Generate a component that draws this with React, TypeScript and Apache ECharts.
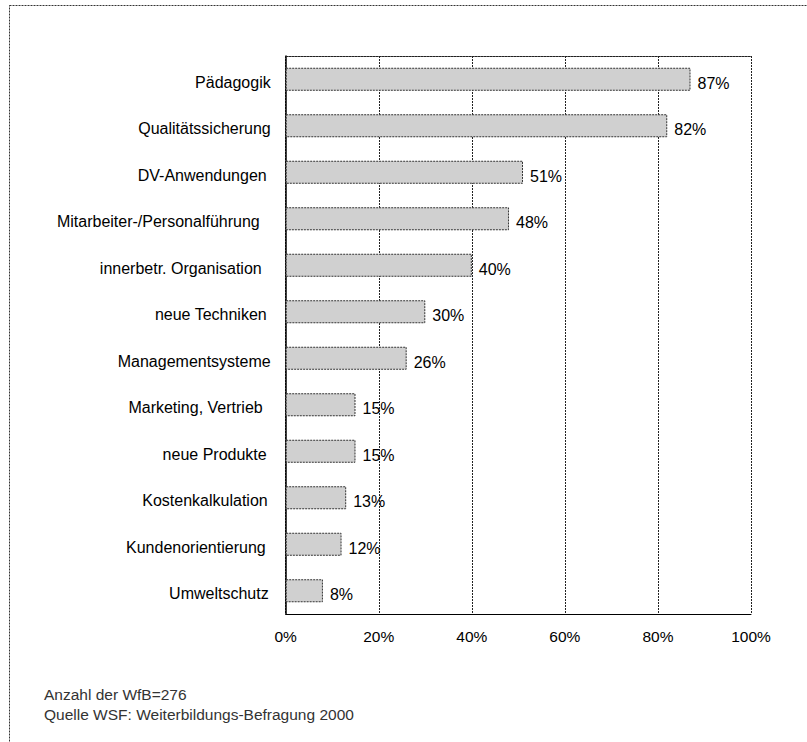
import React, { useEffect, useRef } from "react";
import * as echarts from "echarts";

const categories = [
  "Pädagogik",
  "Qualitätssicherung",
  "DV-Anwendungen",
  "Mitarbeiter-/Personalführung",
  "innerbetr. Organisation",
  "neue Techniken",
  "Managementsysteme",
  "Marketing, Vertrieb",
  "neue Produkte",
  "Kostenkalkulation",
  "Kundenorientierung",
  "Umweltschutz",
];
const values = [87, 82, 51, 48, 40, 30, 26, 15, 15, 13, 12, 8];
const labelPadRight = [0, 0, 4, 11, 9, 4, 0, 8, 4, 3, 5, 2];
const footerLines = ["Anzahl der WfB=276", "Quelle WSF: Weiterbildungs-Befragung 2000"];

const FONT = "'Liberation Sans', Arial, sans-serif";

export default function App() {
  const ref = useRef<HTMLDivElement>(null);
  useEffect(() => {
    if (!ref.current) return;
    const chart = echarts.init(ref.current, undefined, { renderer: "svg" });
    const gridLine = { color: "#222", width: 1, type: [2, 1] as any };
    const rich: Record<string, any> = {};
    labelPadRight.forEach((p, i) => {
      rich["c" + i] = {
        color: "#000",
        fontSize: 16,
        fontFamily: FONT,
        padding: [6, p, 0, 0],
      };
    });
    chart.setOption({
      animation: false,
      backgroundColor: "#fff",
      textStyle: { fontFamily: FONT },
      grid: { left: 285.7, right: 56, top: 56, bottom: 128, containLabel: false },
      xAxis: [
        {
          type: "value",
          min: 0,
          max: 100,
          interval: 20,
          position: "bottom",
          axisLine: { show: true, lineStyle: { color: "#000", width: 1 } },
          axisTick: { show: false },
          axisLabel: {
            formatter: "{value}%",
            color: "#000",
            fontSize: 15.5,
            fontFamily: FONT,
            margin: 14,
          },
          splitLine: { show: true, lineStyle: gridLine },
        },
        {
          type: "value",
          min: 0,
          max: 100,
          interval: 20,
          position: "top",
          axisLine: { show: true, lineStyle: gridLine },
          axisTick: { show: false },
          axisLabel: { show: false },
          splitLine: { show: false },
        },
      ],
      yAxis: {
        type: "category",
        inverse: true,
        data: categories,
        axisLine: { show: true, lineStyle: { color: "#000", width: 1.5 } },
        axisTick: { show: false },
        axisLabel: {
          color: "#000",
          fontSize: 16,
          fontFamily: FONT,
          margin: 15,
          formatter: (v: string, i: number) => `{c${i}|${v}}`,
          rich,
        },
      },
      series: [
        {
          type: "bar",
          data: values,
          barWidth: 23,
          itemStyle: {
            color: "#d0d0d0",
            borderColor: "#333",
            borderWidth: 1,
            borderType: [2, 1],
          },
          label: {
            show: true,
            position: "right",
            distance: 7,
            offset: [0, 4],
            formatter: "{c}%",
            color: "#000",
            fontSize: 16,
            fontFamily: FONT,
          },
        },
      ],
      graphic: [
        {
          type: "rect",
          shape: { x: 9.5, y: 5.5, width: 830, height: 780 },
          style: { fill: "none", stroke: "#333", lineWidth: 1, lineDash: [2, 1] },
          silent: true,
          z: -1,
        },
        {
          type: "text",
          x: 44,
          y: 694,
          style: {
            text: footerLines[0],
            fill: "#333",
            font: `15.5px ${FONT}`,
            verticalAlign: "middle",
          },
        },
        {
          type: "text",
          x: 44,
          y: 714,
          style: {
            text: footerLines[1],
            fill: "#333",
            font: `15.5px ${FONT}`,
            verticalAlign: "middle",
          },
        },
      ],
    });
    return () => chart.dispose();
  }, []);
  return (
    <div
      ref={ref}
      style={{ position: "fixed", left: 0, top: 0, width: 807, height: 742 }}
    />
  );
}
